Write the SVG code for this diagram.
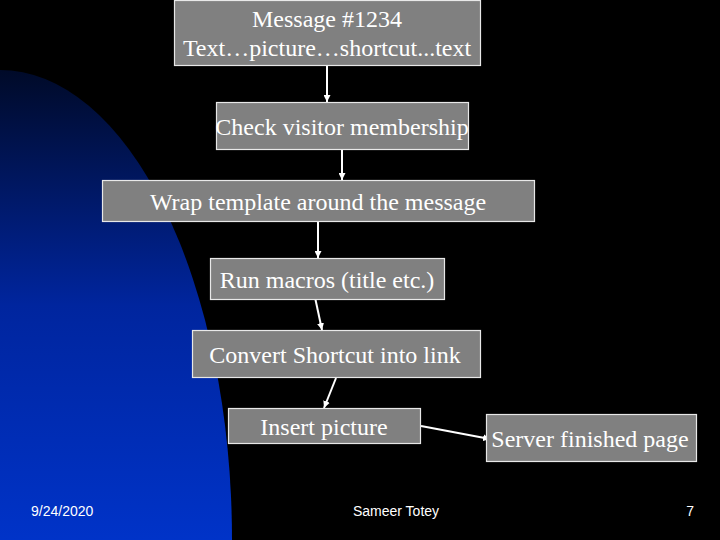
<svg xmlns="http://www.w3.org/2000/svg" width="720" height="540" viewBox="0 0 720 540">
<defs>
<linearGradient id="bg" x1="0" y1="70" x2="0" y2="540" gradientUnits="userSpaceOnUse">
<stop offset="0" stop-color="#000a28"/>
<stop offset="0.5" stop-color="#00259e"/>
<stop offset="1" stop-color="#0033c8"/>
</linearGradient>
<marker id="arr" viewBox="0 0 10 10" refX="10" refY="5" markerWidth="3.5" markerHeight="3.5" orient="auto" markerUnits="strokeWidth">
<path d="M0,0 L10,5 L0,10 Z" fill="#ffffff"/>
</marker>
<style>
.box{fill:#808080;stroke:#e8e8e8;stroke-width:1.2}
.t{font-family:"Liberation Serif","Times New Roman",serif;font-size:24px;fill:#ffffff;text-anchor:middle}
.f{font-family:"Liberation Sans",Arial,sans-serif;font-size:14px;fill:#ffffff}
.c{stroke:#ffffff;stroke-width:2;fill:none;marker-end:url(#arr)}
</style>
</defs>
<rect x="0" y="0" width="720" height="540" fill="#000000"/>
<path d="M0,540 L0,70 A232,470 0 0 1 232,540 Z" fill="url(#bg)"/>
<g id="connectors">
<line class="c" x1="327" y1="66" x2="327" y2="102"/>
<line class="c" x1="342" y1="150" x2="342" y2="180"/>
<line class="c" x1="318" y1="222" x2="318" y2="258"/>
<line class="c" x1="313" y1="288" x2="322" y2="330"/>
<line class="c" x1="336" y1="378" x2="324" y2="408"/>
<line class="c" x1="421" y1="426" x2="490" y2="439"/>
</g>
<g id="n1"><rect class="box" x="174.5" y="0.5" width="306" height="65"/>
<text class="t" x="327" y="27">Message #1234</text>
<text class="t" x="327" y="56">Text…picture…shortcut...text</text></g>
<g id="n2"><rect class="box" x="216.5" y="102.5" width="252" height="47"/>
<text class="t" x="342" y="135">Check visitor membership</text></g>
<g id="n3"><rect class="box" x="102.5" y="180.5" width="432" height="41"/>
<text class="t" x="318" y="210">Wrap template around the message</text></g>
<g id="n4"><rect class="box" x="210.5" y="258.5" width="234" height="41"/>
<text class="t" x="327" y="288">Run macros (title etc.)</text></g>
<g id="n5"><rect class="box" x="192.5" y="330.5" width="288" height="47"/>
<text class="t" x="335" y="363">Convert Shortcut into link</text></g>
<g id="n6"><rect class="box" x="228.5" y="408.5" width="192" height="35"/>
<text class="t" x="324" y="435">Insert picture</text></g>
<g id="n7"><rect class="box" x="486.5" y="414.5" width="210" height="47"/>
<text class="t" x="590" y="447">Server finished page</text></g>
<g id="footer">
<text class="f" x="31" y="516">9/24/2020</text>
<text class="f" x="396" y="516" text-anchor="middle">Sameer Totey</text>
<text class="f" x="694" y="516" text-anchor="end">7</text>
</g>
</svg>
